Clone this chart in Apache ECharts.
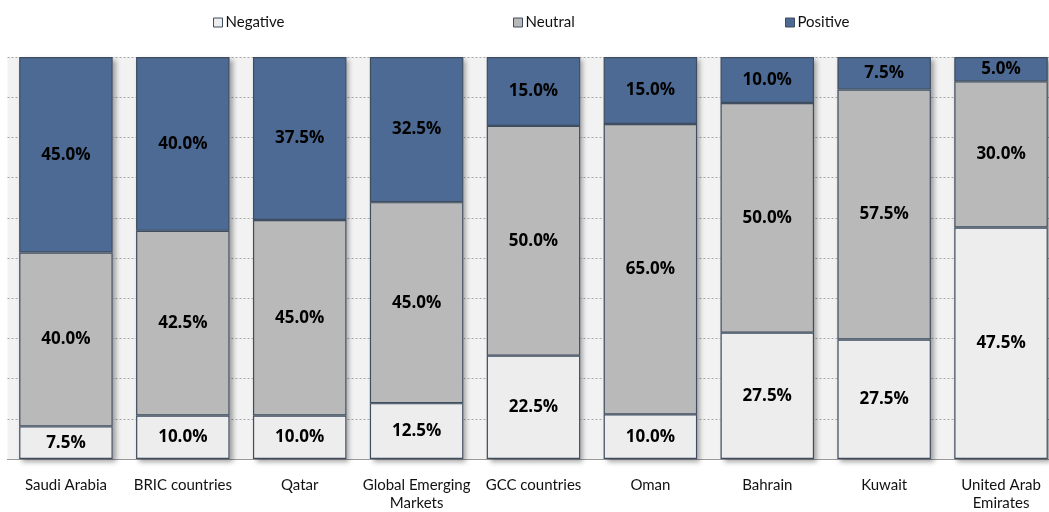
<!DOCTYPE html>
<html><head><meta charset="utf-8">
<script src="https://cdn.jsdelivr.net/npm/echarts@6/dist/echarts.min.js"></script>
<style>html,body{margin:0;padding:0;background:#fff;overflow:hidden;width:1049px;height:512px}#c{width:1064px;height:512px}</style>
</head><body><div id="c"></div>
<script>
var categories = ['Saudi Arabia','BRIC countries','Qatar','Global Emerging\nMarkets','GCC countries','Oman','Bahrain','Kuwait','United Arab\nEmirates'];
var negative = [7.5, 10, 10, 12.5, 22.5, 10, 27.5, 27.5, 47.5];
var neutral  = [40, 42.5, 45, 45, 50, 65, 50, 57.5, 30];
var positive = [45, 40, 37.5, 32.5, 15, 15, 10, 7.5, 5];
var yTicks = [0,10,20,30,40,50,60,70,80,90,100];

var totals = categories.map(function(_, i){ return negative[i] + neutral[i] + positive[i]; });
function shares(arr){ return arr.map(function(v, i){ return {value: v / totals[i] * 100, raw: v}; }); }
var fullBars = categories.map(function(_, i){ return (negative[i]+neutral[i]+positive[i]) / totals[i] * 100; });

var labelFont = {show:true, position:'inside', color:'#000', fontWeight:'bold', fontSize:17, fontFamily:'"Open Sans", sans-serif',
  formatter:function(p){ return p.data.raw.toFixed(1) + '%'; }};
var border = {borderColor:'#3f4d60', borderWidth:1.2};

var chart = echarts.init(document.getElementById('c'), null, {renderer:'canvas'});
chart.setOption({
  animation:false,
  grid:{left:7.5, top:57, width:1052, height:406, show:true, backgroundColor:'#f2f2f2', borderWidth:0, containLabel:false},
  legend:[
    {data:['Negative'], left:208, top:10},
    {data:['Neutral'], left:508, top:10},
    {data:['Positive'], left:780, top:10}
  ].map(function(l){ return Object.assign(l, {icon:'rect', itemWidth:9, itemHeight:9, itemGap:3,
      textStyle:{fontSize:15, color:'#111', fontFamily:'Lato, sans-serif', padding:[0,0,0,-2]},
      itemStyle:{borderColor:'#3f4d60', borderWidth:1}}); }),
  xAxis:{type:'category', data:categories,
    axisLine:{show:true, lineStyle:{color:'#999', width:1}}, axisTick:{show:false},
    axisLabel:{color:'#111', fontSize:15, fontFamily:'Lato, sans-serif', margin:17, lineHeight:18, interval:0}},
  yAxis:{type:'value', min:0, max:100, interval:10, axisLabel:{show:false}, axisLine:{show:false}, axisTick:{show:false},
    splitLine:{show:true, lineStyle:{type:[2,2], color:'#a8a8a8', width:1}}},
  series:[
    {name:'shadow', type:'bar', data:fullBars, barCategoryGap:'20%', barGap:'-100%', z:1, silent:true,
      itemStyle:{color:'#ddd', shadowBlur:5, shadowOffsetX:3, shadowOffsetY:3, shadowColor:'rgba(0,0,0,0.35)'}},
    {name:'Negative', type:'bar', stack:'s', data:shares(negative), z:2, barGap:'-100%', barCategoryGap:'20%',
      itemStyle:Object.assign({color:'#ededed'}, border), label:labelFont},
    {name:'Neutral', type:'bar', stack:'s', data:shares(neutral), z:2, barGap:'-100%',
      itemStyle:Object.assign({color:'#b9b9b9'}, border), label:labelFont},
    {name:'Positive', type:'bar', stack:'s', data:shares(positive), z:2, barGap:'-100%',
      itemStyle:Object.assign({color:'#4c6a93'}, border), label:labelFont}
  ]
});
</script></body></html>
